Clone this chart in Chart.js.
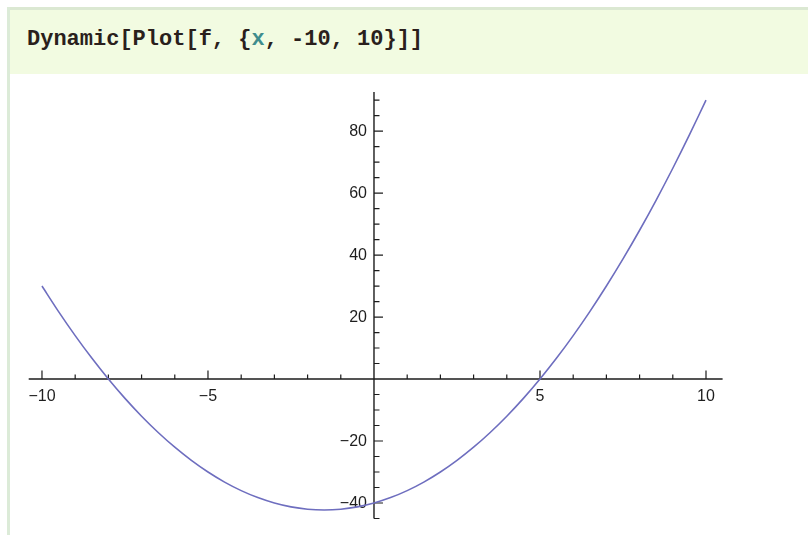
<!DOCTYPE html>
<html>
<head>
<meta charset="utf-8">
<script src="https://cdn.jsdelivr.net/npm/chart.js@4/dist/chart.umd.min.js"></script>
<style>
  html, body { margin: 0; padding: 0; background: #ffffff; }
  body { width: 808px; height: 535px; position: relative; overflow: hidden; }
  #topline { position: absolute; left: 7px; top: 7px; width: 801px; height: 3px; background: #dbe8d2; }
  #leftbar { position: absolute; left: 7px; top: 7px; width: 3px; height: 528px; background: #dcebd8; }
  #cell {
    position: absolute; left: 10px; top: 10px; width: 798px; height: 64px;
    background: #f2fbe1;
  }
  #code {
    position: absolute; left: 27px; top: 28px;
    font-family: "Liberation Mono", "Courier New", monospace;
    font-weight: bold; font-size: 22px; line-height: 24px;
    color: #2a1f1c; white-space: pre;
  }
  #code .var { color: #3f8d8d; }
  #plot { position: absolute; left: 0; top: 0; }
</style>
</head>
<body>
<div id="topline"></div>
<div id="leftbar"></div>
<div id="cell"></div>
<div id="code">Dynamic[Plot[f, {<span class="var">x</span>, -10, 10}]]</div>
<canvas id="plot" width="808" height="535"></canvas>
<script>
// Sampled values of f over the plot range
const xValues = [-10, -9.5, -9, -8.5, -8, -7.5, -7, -6.5, -6, -5.5, -5, -4.5, -4, -3.5, -3, -2.5, -2, -1.5, -1, -0.5,
                 0, 0.5, 1, 1.5, 2, 2.5, 3, 3.5, 4, 4.5, 5, 5.5, 6, 6.5, 7, 7.5, 8, 8.5, 9, 9.5, 10];
const fValues = [30, 21.75, 14, 6.75, 0, -6.25, -12, -17.25, -22, -26.25, -30, -33.25, -36, -38.25, -40, -41.25, -42, -42.25, -42, -41.25,
                 -40, -38.25, -36, -33.25, -30, -26.25, -22, -17.25, -12, -6.25, 0, 6.75, 14, 21.75, 30, 38.75, 48, 57.75, 68, 78.75, 90];

// Axis ticks and labels
const xMajorTicks = [-10, -5, 5, 10];
const xMajorLabels = ['\u221210', '\u22125', '5', '10'];
const xMinorTicks = [-9, -8, -7, -6, -4, -3, -2, -1, 1, 2, 3, 4, 6, 7, 8, 9];
const yMajorTicks = [80, 60, 40, 20, -20, -40];
const yMajorLabels = ['80', '60', '40', '20', '\u221220', '\u221240'];
const yMinorTicks = [90, 85, 75, 70, 65, 55, 50, 45, 35, 30, 25, 15, 10, 5, -5, -10, -15, -25, -30, -35, -45];

// Axis extents
const xRange = [-10.4, 10.5];
const yRange = [-45, 92.6];

const points = xValues.map((x, i) => ({ x: x, y: fValues[i] }));

// Draws axes through the origin with inward ticks
const originAxes = {
  id: 'originAxes',
  beforeDatasetsDraw(chart) {
    const ctx = chart.ctx;
    const xs = chart.scales.x, ys = chart.scales.y;
    const x0 = xs.getPixelForValue(0), y0 = ys.getPixelForValue(0);
    ctx.save();
    ctx.strokeStyle = '#1c1c1c';
    ctx.lineWidth = 1.4;
    ctx.beginPath();
    ctx.moveTo(xs.getPixelForValue(xRange[0]), y0);
    ctx.lineTo(xs.getPixelForValue(xRange[1]), y0);
    ctx.moveTo(x0, ys.getPixelForValue(yRange[1]));
    ctx.lineTo(x0, ys.getPixelForValue(yRange[0]));
    ctx.stroke();

    ctx.lineWidth = 1.2;
    ctx.beginPath();
    xMajorTicks.forEach(v => { const p = xs.getPixelForValue(v); ctx.moveTo(p, y0); ctx.lineTo(p, y0 - 8.5); });
    xMinorTicks.forEach(v => { const p = xs.getPixelForValue(v); ctx.moveTo(p, y0); ctx.lineTo(p, y0 - 4.5); });
    yMajorTicks.forEach(v => { const p = ys.getPixelForValue(v); ctx.moveTo(x0, p); ctx.lineTo(x0 + 9, p); });
    yMinorTicks.forEach(v => { const p = ys.getPixelForValue(v); ctx.moveTo(x0, p); ctx.lineTo(x0 + 5.5, p); });
    ctx.stroke();

    ctx.fillStyle = '#1e1e1e';
    ctx.font = '16px "Liberation Sans", Arial, sans-serif';
    ctx.textAlign = 'center';
    ctx.textBaseline = 'top';
    xMajorTicks.forEach((v, i) => ctx.fillText(xMajorLabels[i], xs.getPixelForValue(v), y0 + 10));
    ctx.textAlign = 'right';
    ctx.textBaseline = 'middle';
    yMajorTicks.forEach((v, i) => ctx.fillText(yMajorLabels[i], x0 - 7, ys.getPixelForValue(v) + 0.5));
    ctx.restore();
  }
};

new Chart(document.getElementById('plot'), {
  type: 'line',
  data: {
    datasets: [{
      data: points,
      borderColor: '#6e6ebf',
      borderWidth: 1.6,
      pointRadius: 0,
      tension: 0.3,
      fill: false,
      clip: false
    }]
  },
  options: {
    responsive: false,
    animation: false,
    devicePixelRatio: 1,
    layout: { padding: { left: 28.7, right: 85.4, top: 92, bottom: 16.5 } },
    plugins: { legend: { display: false }, tooltip: { enabled: false } },
    scales: {
      x: { type: 'linear', min: xRange[0], max: xRange[1], display: false },
      y: { type: 'linear', min: yRange[0], max: yRange[1], display: false }
    }
  },
  plugins: [originAxes]
});
</script>
</body>
</html>
